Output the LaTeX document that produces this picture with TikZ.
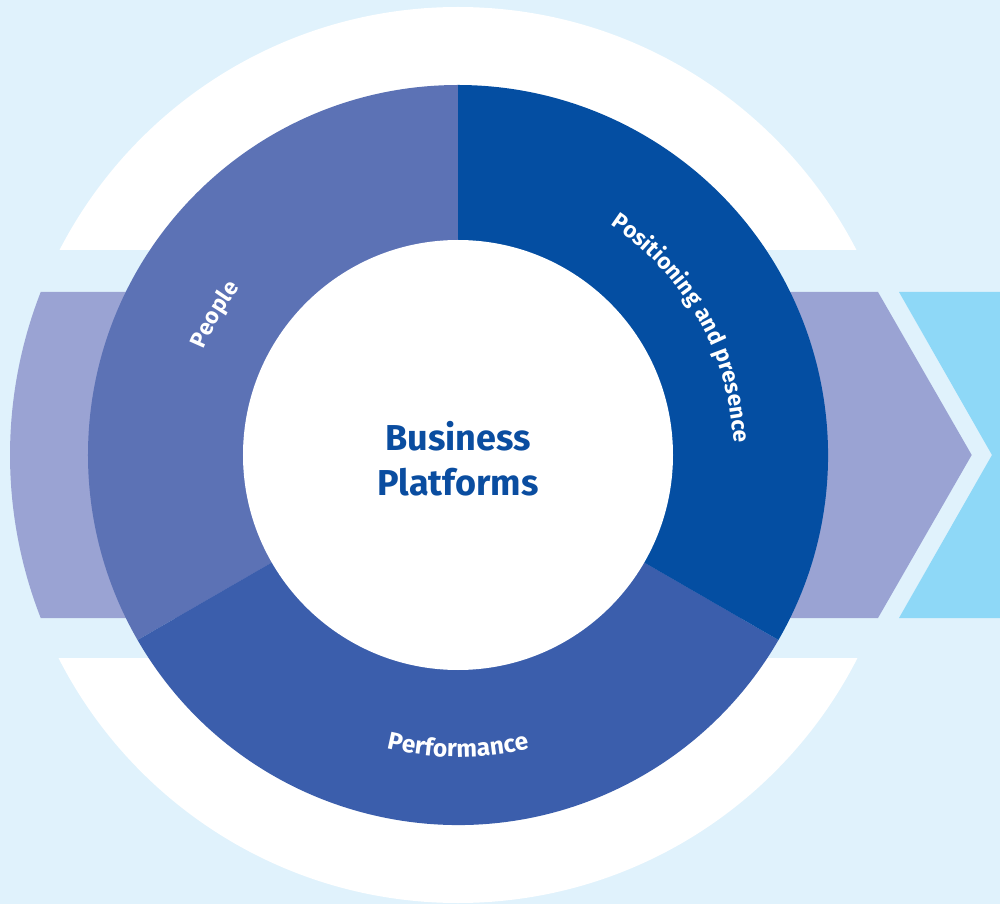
\documentclass[tikz,border=0pt]{standalone}
\usepackage{fontspec}
\setmainfont{Fira Sans}
\usetikzlibrary{decorations.text}
\definecolor{bg}{HTML}{E0F2FC}
\definecolor{bandc}{HTML}{9AA3D3}
\definecolor{cyanc}{HTML}{8ED8F7}
\definecolor{posc}{HTML}{044EA2}
\definecolor{peoc}{HTML}{5C72B5}
\definecolor{perfc}{HTML}{3B5EAC}
\definecolor{titlec}{HTML}{0A4DA0}
\begin{document}
\begin{tikzpicture}[x=1pt,y=1pt,
  arclabel/.style 2 args={decorate, decoration={text along path, text align=center, text color=white,
     text={|\fontsize{#1}{28}\selectfont\bfseries|#2}}}]
\useasboundingbox (-458,-449) rectangle (542,455);
% background
\fill[bg] (-458,-449) rectangle (542,455);
% big white disc
\fill[white] (0,0) circle[radius=448];
% light horizontal strip
\fill[bg] (-458,205) rectangle (542,-203);
% violet arrow band
\fill[bandc] (420,163) -- (158.66:448) arc[start angle=158.66, end angle=201.34, radius=448]
   -- (420,-163) -- (513.7,0) -- cycle;
% cyan chevron
\fill[cyanc] (441,163) -- (542,163) -- (542,-163) -- (441,-163) -- (534,0) -- cycle;
% ring segments
\fill[peoc] (0,0) -- (90:370) arc[start angle=90, end angle=210, radius=370] -- cycle;
\fill[perfc] (0,0) -- (210:370) arc[start angle=210, end angle=330, radius=370] -- cycle;
\fill[posc] (0,0) -- (-30:370) arc[start angle=-30, end angle=90, radius=370] -- cycle;
% centre
\node (hub) [circle, fill=white, minimum size=430, inner sep=0pt] at (0,0) {};
\node (title) [text=titlec, font=\fontsize{36}{45}\selectfont\bfseries, align=center] at (0,-3.5) {Business\\Platforms};
% curved labels
\path[arclabel={22.5}{Positioning and presence}] (89.5:276) arc[start angle=89.5, end angle=-30.5, radius=276];
\path[arclabel={22.5}{People}] (210:275) arc[start angle=210, end angle=90, radius=275];
\path[arclabel={24.5}{Performance}] (210:302) arc[start angle=210, end angle=330, radius=302];
\end{tikzpicture}
\end{document}
